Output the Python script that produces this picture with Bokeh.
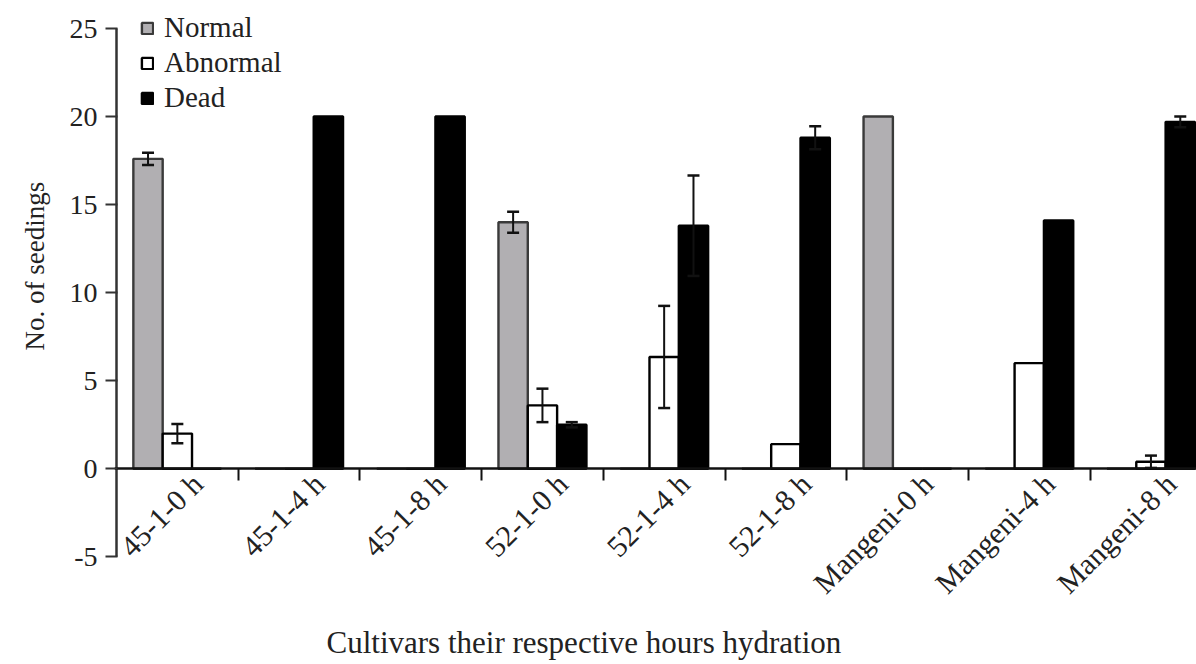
import math
import numpy as np
from bokeh.plotting import figure
from bokeh.models import (Range1d, LinearAxis, FixedTicker, ColumnDataSource, Whisker,
                          TeeHead, Legend, LegendItem, Title, Label)
from bokeh.embed import file_html
from bokeh.resources import INLINE

# ---- data ----
categories = ["45-1-0 h", "45-1-4 h", "45-1-8 h", "52-1-0 h", "52-1-4 h",
              "52-1-8 h", "Mangeni-0 h", "Mangeni-4 h", "Mangeni-8 h"]
normal = [17.6, 0, 0, 14.0, 0, 0, 20.0, 0, 0]
normal_err = [0.35, 0, 0, 0.6, 0, 0, 0, 0, 0]
abnormal = [2.0, 0, 0, 3.6, 6.35, 1.4, 0, 6.0, 0.4]
abnormal_err = [0.55, 0, 0, 0.95, 2.9, 0, 0, 0, 0.35]
dead = [0, 20.0, 20.0, 2.5, 13.8, 18.8, 0, 14.1, 19.7]
dead_err = [0, 0, 0, 0.15, 2.85, 0.65, 0, 0, 0.3]
y_ticks = [-5, 0, 5, 10, 15, 20, 25]
x_title = "Cultivars their respective hours hydration"

FONT = "Liberation Serif"
TXT = "#222222"

n = len(categories)
centers = np.arange(n) + 0.5
bw = 0.241
LSHIFT = 0.165
CAT_PX = 121.7
PX_PER_UNIT = 17.612
FRAME_L = 114
FRAME_T = 6
FRAME_B = 664
Y_TOP_PX = 28                      # screen y of value 25
Y_MAX = 25 + (Y_TOP_PX - FRAME_T) / PX_PER_UNIT
Y_MIN = 25 - (FRAME_B - Y_TOP_PX) / PX_PER_UNIT

p = figure(width=1196, height=664,
           x_range=Range1d(-(116 - FRAME_L) / CAT_PX, (1196 - 116) / CAT_PX),
           y_range=Range1d(Y_MIN, Y_MAX),
           output_backend="svg", toolbar_location=None, x_axis_location=None,
           min_border_left=FRAME_L, min_border_top=FRAME_T, min_border_right=0,
           min_border_bottom=0)
p.title.visible = False
p.grid.visible = False
p.outline_line_color = None
p.background_fill_color = "white"

# y axis line (from lowest to highest tick, at x = 0)
p.segment(x0=[0], y0=[y_ticks[0]], x1=[0], y1=[y_ticks[-1]],
          line_color="#333333", line_width=2.5)

series = [
    ("Normal", normal, normal_err, -bw, "#b1afb2", "#3a3a3a"),
    ("Abnormal", abnormal, abnormal_err, 0.0, "#ffffff", "#000000"),
    ("Dead", dead, dead_err, bw, "#000000", "#000000"),
]

items = []
for name, vals, errs, off, fill, line in series:
    src = ColumnDataSource(dict(x=list(centers + off), top=vals))
    r = p.vbar(x="x", top="top", bottom=0, width=bw, source=src,
               fill_color=fill, line_color=line, line_width=2.4)
    items.append(LegendItem(label=name, renderers=[r]))
    xs = [c + off for c, e in zip(centers, errs) if e > 0]
    vs = [v for v, e in zip(vals, errs) if e > 0]
    es = [e for e in errs if e > 0]
    wsrc = ColumnDataSource(dict(x=xs, upper=[v + e for v, e in zip(vs, es)],
                                 lower=[v - e for v, e in zip(vs, es)]))
    w = Whisker(source=wsrc, base="x", upper="upper", lower="lower",
                line_color="#111111", line_width=2, level="overlay",
                upper_head=TeeHead(size=12, line_width=2.5, line_color="#111111"),
                lower_head=TeeHead(size=12, line_width=2.5, line_color="#111111"))
    p.add_layout(w)

# y axis (ticks + labels; the line is drawn above)
ya = p.yaxis[0]
ya.ticker = FixedTicker(ticks=y_ticks)
ya.major_label_overrides = {t: str(t) for t in y_ticks}
ya.minor_tick_line_color = None
ya.major_tick_in = 3
ya.major_tick_out = 9
ya.major_tick_line_width = 2
ya.major_tick_line_color = "#333333"
ya.axis_line_color = None
ya.major_label_text_font = FONT
ya.major_label_text_font_size = "28px"
ya.major_label_text_color = TXT
ya.major_label_standoff = 8

ytitle = Title(text="No. of seedings", align="left", offset=FRAME_B - 350,
               text_font=FONT, text_font_size="27px", text_font_style="normal",
               text_color=TXT, standoff=34)
p.add_layout(ytitle, "left")

# x axis: tick marks at category boundaries (fixed at y=0)
xt = LinearAxis(ticker=FixedTicker(ticks=list(np.arange(1, n))), fixed_location=0,
                major_label_text_font_size="0px", major_label_text_color=None,
                major_tick_in=0, major_tick_out=12, major_tick_line_width=2,
                major_tick_line_color="#111111", minor_tick_line_color=None,
                axis_line_color="#111111", axis_line_width=2.5)
p.add_layout(xt, "below")

# x axis: category labels (fixed at y=0)
label_pos = [float(c + LSHIFT) for c in centers]
xl = LinearAxis(ticker=FixedTicker(ticks=label_pos), fixed_location=0,
                major_label_overrides={lp: cat for lp, cat in zip(label_pos, categories)},
                major_label_orientation=math.pi / 4,
                major_label_text_font=FONT, major_label_text_font_size="30px",
                major_label_text_color=TXT, major_label_standoff=4,
                major_tick_line_color=None, minor_tick_line_color=None,
                axis_line_color=None)
p.add_layout(xl, "below")

# x axis title (placed in the frame's lower strip)
zero_px = Y_TOP_PX + 25 * PX_PER_UNIT
xlab = Label(x=(326 - 116) / CAT_PX, y=(zero_px - 642) / PX_PER_UNIT, text=x_title,
             text_font=FONT, text_font_size="31px", text_color=TXT,
             text_align="left", text_baseline="middle")
p.add_layout(xlab)

legend = Legend(items=items, location=(140 - FRAME_L, FRAME_B - 114),
                glyph_width=14, glyph_height=14,
                label_standoff=10, label_text_font=FONT, label_text_font_size="29px",
                label_text_color=TXT, spacing=2, padding=0, margin=0,
                border_line_color=None, background_fill_alpha=0)
p.add_layout(legend)

open("out.html", "w").write(file_html(p, INLINE))
